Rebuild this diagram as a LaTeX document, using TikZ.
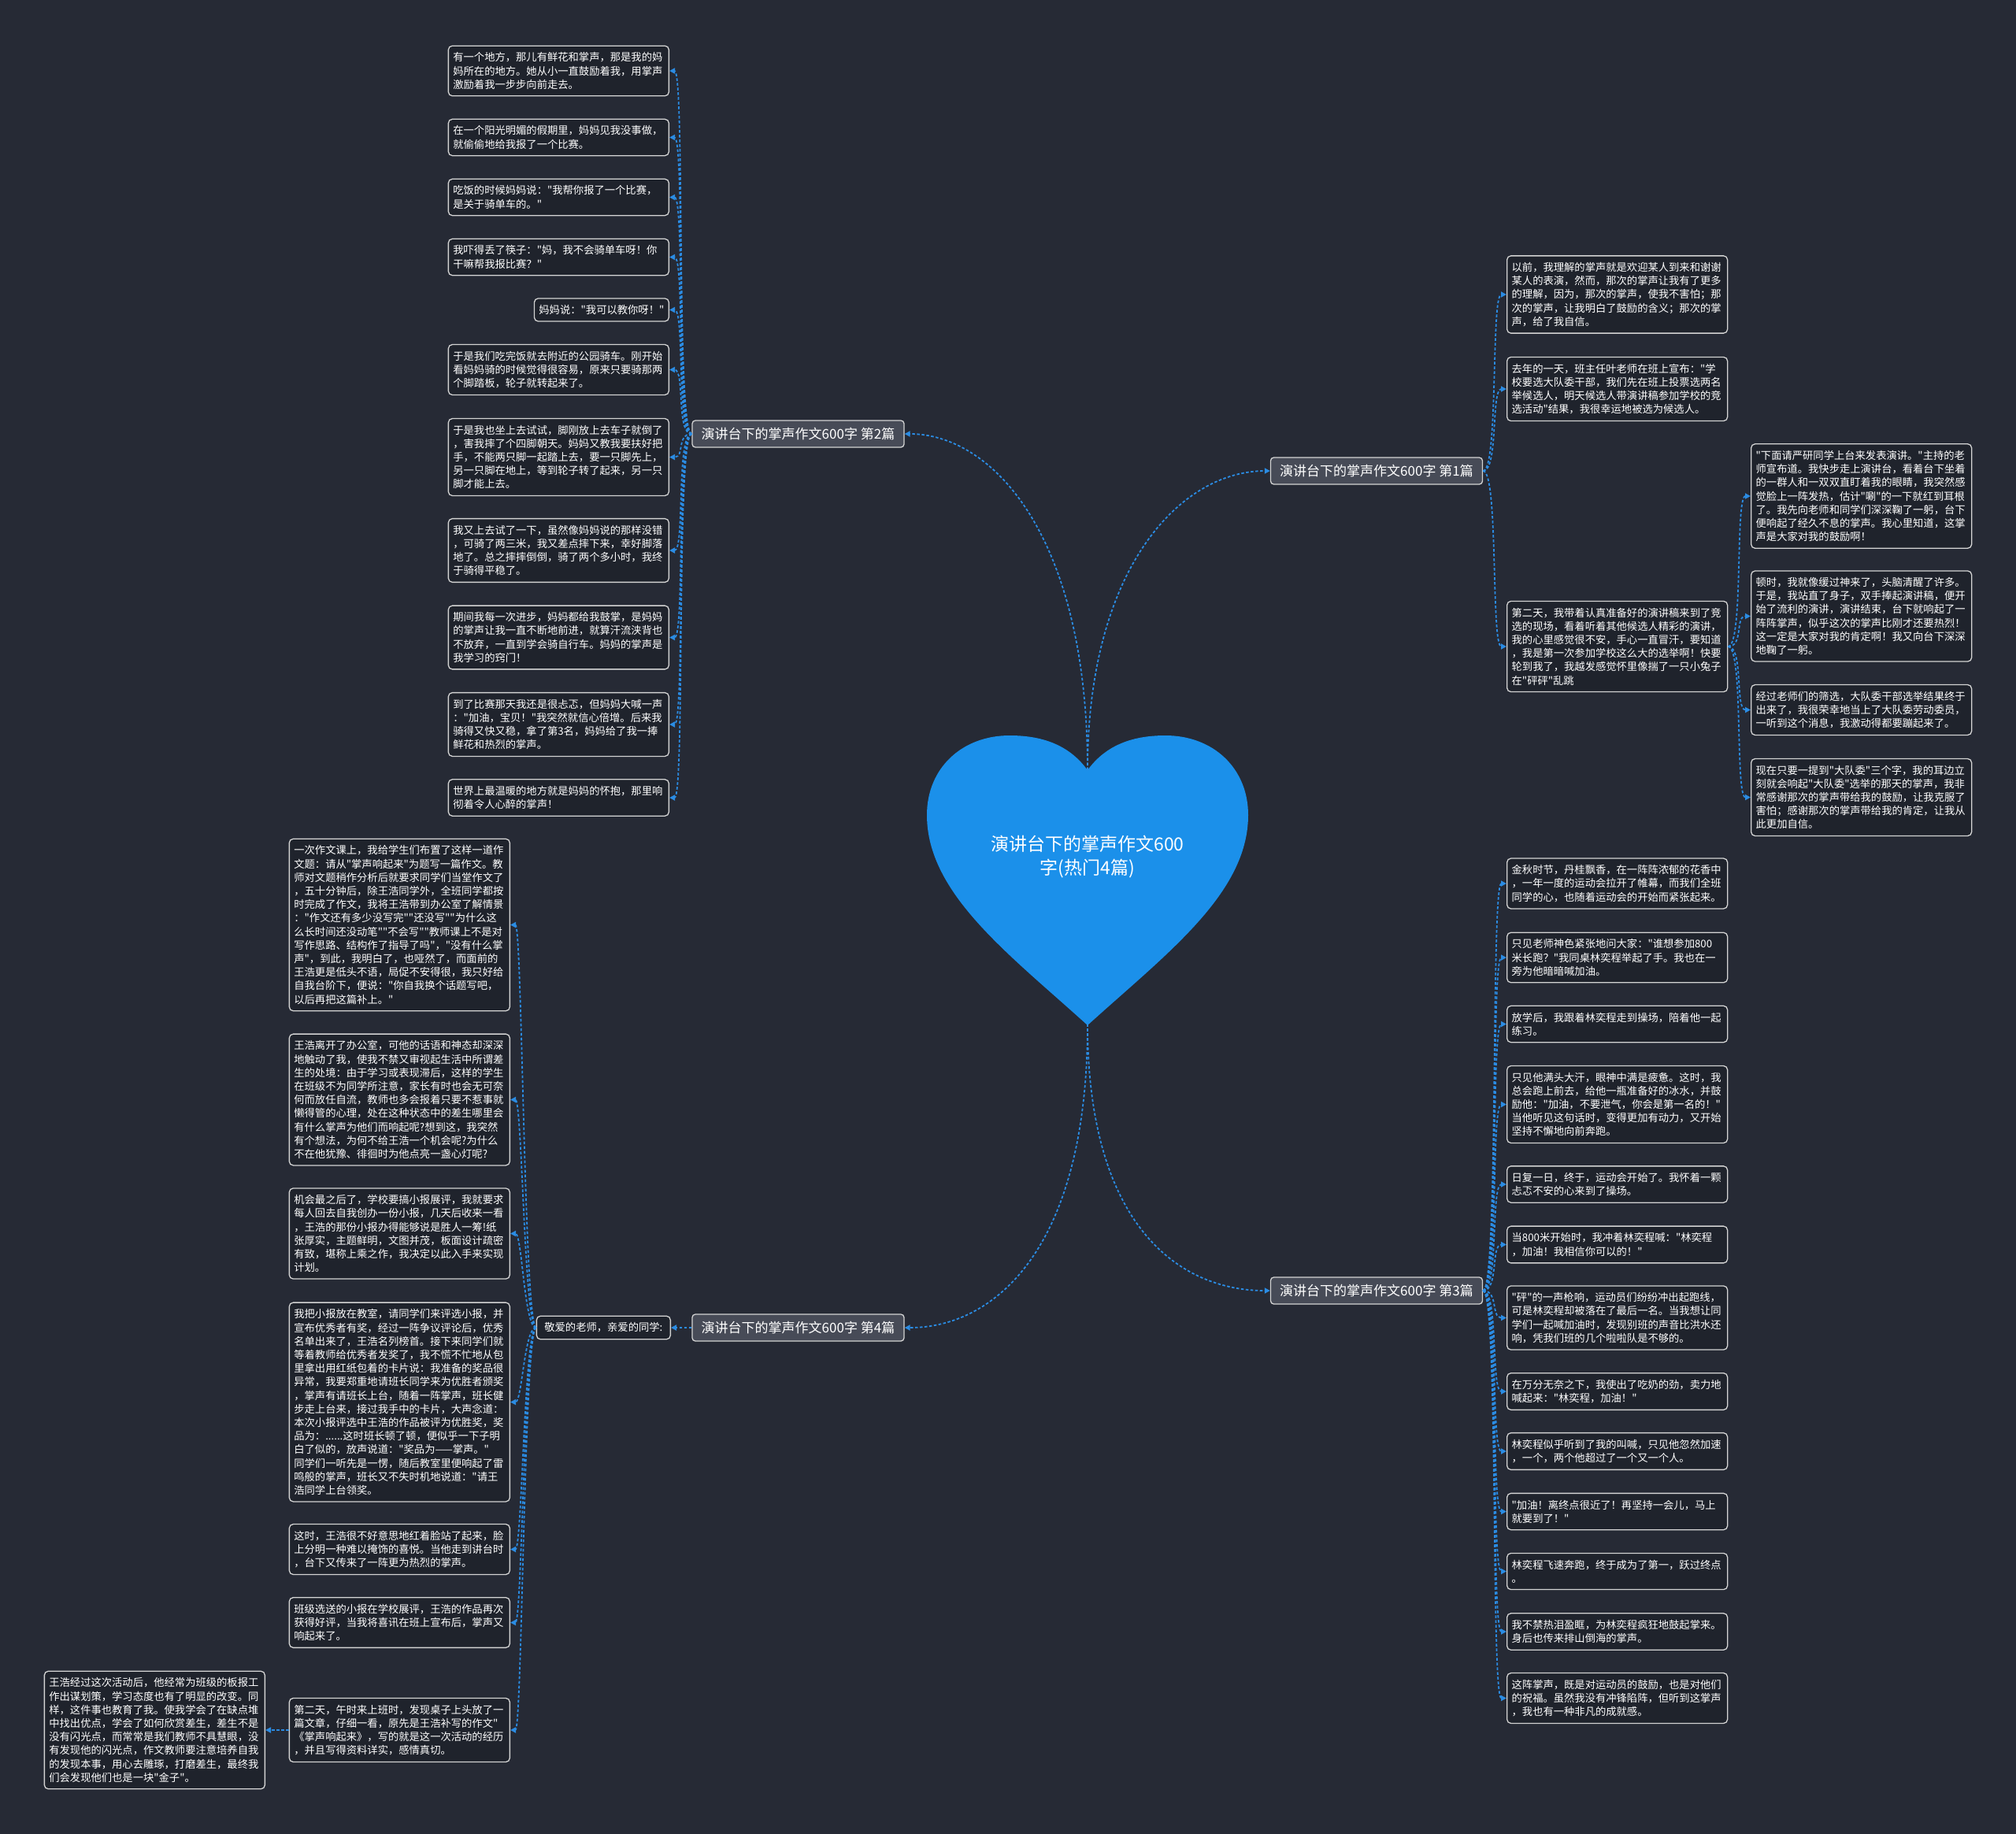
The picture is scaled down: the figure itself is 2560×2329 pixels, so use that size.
\documentclass[tikz,border=0pt]{standalone}
\usepackage{fontspec}
\newfontfamily\cjk{Noto Sans CJK SC}
\usetikzlibrary{arrows.meta}
\definecolor{bg}{HTML}{262A35}
\definecolor{boxfill}{HTML}{1F232C}
\definecolor{boxline}{HTML}{D4D4D4}
\definecolor{brfill}{HTML}{474B57}
\definecolor{connc}{HTML}{2B8CE3}
\definecolor{heartc}{HTML}{1B90EA}
\begin{document}
\begin{tikzpicture}[x=1pt,y=-1pt,
  leafbox/.style={draw=boxline, fill=boxfill, line width=1.3pt, rounded corners=5pt, text=white,
    font=\cjk\fontsize{13.3}{17.2}\selectfont, align=left, inner xsep=6pt, inner ysep=8.4pt},
  lw/.style={leafbox, text width=268pt},
  brnode/.style={draw=boxline, fill=brfill, line width=1.3pt, rounded corners=4pt, text=white,
    font=\cjk\fontsize{17}{20}\selectfont, minimum width=269pt, minimum height=34pt, inner sep=4pt},
  conn/.style={draw=connc, line width=1.8pt, dash pattern=on 3.5pt off 2.5pt,
    -{Triangle[length=7pt,width=7pt]}},
  heartlbl/.style={text=white, font=\cjk\fontsize{23}{31}\selectfont, align=center}
]
\fill[bg] (0,0) rectangle (2560,2329);
\useasboundingbox (0,0) rectangle (2560,2329);

% heart
\fill[heartc] (1381,978)
 .. controls (1405,945) and (1440,934) .. (1480,934)
 .. controls (1540,934) and (1585,975) .. (1585,1035)
 .. controls (1585,1135) and (1480,1212) .. (1381,1302)
 .. controls (1282,1212) and (1177,1135) .. (1177,1035)
 .. controls (1177,975) and (1222,934) .. (1282,934)
 .. controls (1322,934) and (1357,945) .. (1381,978) -- cycle;
\coordinate (htop) at (1381,978);
\coordinate (hbot) at (1381,1300);
\node[heartlbl] (ht) at (1381,1088) {演讲台下的掌声作文600\\字(热门4篇)};

% branches
\node[brnode] (B2) at (1013.5,551) {演讲台下的掌声作文600字 第2篇};
\node[brnode] (B1) at (1748,598) {演讲台下的掌声作文600字 第1篇};
\node[brnode] (B3) at (1748,1639) {演讲台下的掌声作文600字 第3篇};
\node[brnode] (B4) at (1013.5,1686) {演讲台下的掌声作文600字 第4篇};

% branch 2 leaves
\node[lw,anchor=east] (a1) at (850,90) {有一个地方，那儿有鲜花和掌声，那是我的妈\\妈所在的地方。她从小一直鼓励着我，用掌声\\激励着我一步步向前走去。};
\node[lw,anchor=east] (a2) at (850,174.5) {在一个阳光明媚的假期里，妈妈见我没事做，\\就偷偷地给我报了一个比赛。};
\node[lw,anchor=east] (a3) at (850,250.5) {吃饭的时候妈妈说："我帮你报了一个比赛，\\是关于骑单车的。"};
\node[lw,anchor=east] (a4) at (850,326.5) {我吓得丢了筷子："妈，我不会骑单车呀！你\\干嘛帮我报比赛？"};
\node[leafbox,anchor=east] (a5) at (850,393.5) {妈妈说："我可以教你呀！"};
\node[lw,anchor=east] (a6) at (850,469.5) {于是我们吃完饭就去附近的公园骑车。刚开始\\看妈妈骑的时候觉得很容易，原来只要骑那两\\个脚踏板，轮子就转起来了。};
\node[lw,anchor=east] (a7) at (850,580.5) {于是我也坐上去试试，脚刚放上去车子就倒了\\，害我摔了个四脚朝天。妈妈又教我要扶好把\\手，不能两只脚一起踏上去，要一只脚先上，\\另一只脚在地上，等到轮子转了起来，另一只\\脚才能上去。};
\node[lw,anchor=east] (a8) at (850,699) {我又上去试了一下，虽然像妈妈说的那样没错\\，可骑了两三米，我又差点摔下来，幸好脚落\\地了。总之摔摔倒倒，骑了两个多小时，我终\\于骑得平稳了。};
\node[lw,anchor=east] (a9) at (850,809.5) {期间我每一次进步，妈妈都给我鼓掌，是妈妈\\的掌声让我一直不断地前进，就算汗流浃背也\\不放弃，一直到学会骑自行车。妈妈的掌声是\\我学习的窍门！};
\node[lw,anchor=east] (a10) at (850,920) {到了比赛那天我还是很忐忑，但妈妈大喊一声\\："加油，宝贝！"我突然就信心倍增。后来我\\骑得又快又稳，拿了第3名，妈妈给了我一捧\\鲜花和热烈的掌声。};
\node[lw,anchor=east] (a11) at (850,1013) {世界上最温暖的地方就是妈妈的怀抱，那里响\\彻着令人心醉的掌声！};

% branch 1 leaves
\node[lw,anchor=west] (b1) at (1913,374) {以前，我理解的掌声就是欢迎某人到来和谢谢\\某人的表演，然而，那次的掌声让我有了更多\\的理解，因为，那次的掌声，使我不害怕；那\\次的掌声，让我明白了鼓励的含义；那次的掌\\声，给了我自信。};
\node[lw,anchor=west] (b2) at (1913,494) {去年的一天，班主任叶老师在班上宣布："学\\校要选大队委干部，我们先在班上投票选两名\\举候选人，明天候选人带演讲稿参加学校的竞\\选活动"结果，我很幸运地被选为候选人。};
\node[lw,anchor=west] (b3) at (1913,821) {第二天，我带着认真准备好的演讲稿来到了竞\\选的现场，看着听着其他候选人精彩的演讲，\\我的心里感觉很不安，手心一直冒汗，要知道\\，我是第一次参加学校这么大的选举啊！快要\\轮到我了，我越发感觉怀里像揣了一只小兔子\\在"砰砰"乱跳};
\node[lw,anchor=west] (s1) at (2223,630) {"下面请严研同学上台来发表演讲。"主持的老\\师宣布道。我快步走上演讲台，看着台下坐着\\的一群人和一双双直盯着我的眼睛，我突然感\\觉脸上一阵发热，估计"唰"的一下就红到耳根\\了。我先向老师和同学们深深鞠了一躬，台下\\便响起了经久不息的掌声。我心里知道，这掌\\声是大家对我的鼓励啊！};
\node[lw,anchor=west] (s2) at (2223,782.5) {顿时，我就像缓过神来了，头脑清醒了许多。\\于是，我站直了身子，双手捧起演讲稿，便开\\始了流利的演讲，演讲结束，台下就响起了一\\阵阵掌声，似乎这次的掌声比刚才还要热烈！\\这一定是大家对我的肯定啊！我又向台下深深\\地鞠了一躬。};
\node[lw,anchor=west] (s3) at (2223,901.5) {经过老师们的筛选，大队委干部选举结果终于\\出来了，我很荣幸地当上了大队委劳动委员，\\一听到这个消息，我激动得都要蹦起来了。};
\node[lw,anchor=west] (s4) at (2223,1012.5) {现在只要一提到"大队委"三个字，我的耳边立\\刻就会响起"大队委"选举的那天的掌声，我非\\常感谢那次的掌声带给我的鼓励，让我克服了\\害怕；感谢那次的掌声带给我的肯定，让我从\\此更加自信。};

% branch 3 leaves
\node[lw,anchor=west] (c1) at (1913,1122) {金秋时节，丹桂飘香，在一阵阵浓郁的花香中\\，一年一度的运动会拉开了帷幕，而我们全班\\同学的心，也随着运动会的开始而紧张起来。};
\node[lw,anchor=west] (c2) at (1913,1216) {只见老师神色紧张地问大家："谁想参加800\\米长跑？"我同桌林奕程举起了手。我也在一\\旁为他暗暗喊加油。};
\node[lw,anchor=west] (c3) at (1913,1300.5) {放学后，我跟着林奕程走到操场，陪着他一起\\练习。};
\node[lw,anchor=west] (c4) at (1913,1402.5) {只见他满头大汗，眼神中满是疲惫。这时，我\\总会跑上前去，给他一瓶准备好的冰水，并鼓\\励他："加油，不要泄气，你会是第一名的！"\\当他听见这句话时，变得更加有动力，又开始\\坚持不懈地向前奔跑。};
\node[lw,anchor=west] (c5) at (1913,1504) {日复一日，终于，运动会开始了。我怀着一颗\\忐忑不安的心来到了操场。};
\node[lw,anchor=west] (c6) at (1913,1580.5) {当800米开始时，我冲着林奕程喊："林奕程\\，加油！我相信你可以的！"};
\node[lw,anchor=west] (c7) at (1913,1673.5) {"砰"的一声枪响，运动员们纷纷冲出起跑线，\\可是林奕程却被落在了最后一名。当我想让同\\学们一起喊加油时，发现别班的声音比洪水还\\响，凭我们班的几个啦啦队是不够的。};
\node[lw,anchor=west] (c8) at (1913,1767) {在万分无奈之下，我使出了吃奶的劲，卖力地\\喊起来："林奕程，加油！"};
\node[lw,anchor=west] (c9) at (1913,1843) {林奕程似乎听到了我的叫喊，只见他忽然加速\\，一个，两个他超过了一个又一个人。};
\node[lw,anchor=west] (c10) at (1913,1919.5) {"加油！离终点很近了！再坚持一会儿，马上\\就要到了！"};
\node[lw,anchor=west] (c11) at (1913,1995.5) {林奕程飞速奔跑，终于成为了第一，跃过终点\\。};
\node[lw,anchor=west] (c12) at (1913,2072) {我不禁热泪盈眶，为林奕程疯狂地鼓起掌来。\\身后也传来排山倒海的掌声。};
\node[lw,anchor=west] (c13) at (1913,2156.5) {这阵掌声，既是对运动员的鼓励，也是对他们\\的祝福。虽然我没有冲锋陷阵，但听到这掌声\\，我也有一种非凡的成就感。};

% branch 4
\node[leafbox,anchor=east,inner xsep=10pt] (lbl) at (852,1686) {敬爱的老师，亲爱的同学:};
\node[lw,anchor=east] (d1) at (648,1174.5) {一次作文课上，我给学生们布置了这样一道作\\文题：请从"掌声响起来"为题写一篇作文。教\\师对文题稍作分析后就要求同学们当堂作文了\\，五十分钟后，除王浩同学外，全班同学都按\\时完成了作文，我将王浩带到办公室了解情景\\："作文还有多少没写完""还没写""为什么这\\么长时间还没动笔""不会写""教师课上不是对\\写作思路、结构作了指导了吗"，"没有什么掌\\声"，到此，我明白了，也哑然了，而面前的\\王浩更是低头不语，局促不安得很，我只好给\\自我台阶下，便说："你自我换个话题写吧，\\以后再把这篇补上。"};
\node[lw,anchor=east] (d2) at (648,1396.5) {王浩离开了办公室，可他的话语和神态却深深\\地触动了我，使我不禁又审视起生活中所谓差\\生的处境：由于学习或表现滞后，这样的学生\\在班级不为同学所注意，家长有时也会无可奈\\何而放任自流，教师也多会报着只要不惹事就\\懒得管的心理，处在这种状态中的差生哪里会\\有什么掌声为他们而响起呢?想到这，我突然\\有个想法，为何不给王浩一个机会呢?为什么\\不在他犹豫、徘徊时为他点亮一盏心灯呢?};
\node[lw,anchor=east] (d3) at (648,1566.5) {机会最之后了，学校要搞小报展评，我就要求\\每人回去自我创办一份小报，几天后收来一看\\，王浩的那份小报办得能够说是胜人一筹!纸\\张厚实，主题鲜明，文图并茂，板面设计疏密\\有致，堪称上乘之作，我决定以此入手来实现\\计划。};
\node[lw,anchor=east] (d4) at (648,1780.5) {我把小报放在教室，请同学们来评选小报，并\\宣布优秀者有奖，经过一阵争议评论后，优秀\\名单出来了，王浩名列榜首。接下来同学们就\\等着教师给优秀者发奖了，我不慌不忙地从包\\里拿出用红纸包着的卡片说：我准备的奖品很\\异常，我要郑重地请班长同学来为优胜者颁奖\\，掌声有请班长上台，随着一阵掌声，班长健\\步走上台来，接过我手中的卡片，大声念道：\\本次小报评选中王浩的作品被评为优胜奖，奖\\品为：......这时班长顿了顿，便似乎一下子明\\白了似的，放声说道："奖品为——掌声。"\\同学们一听先是一愣，随后教室里便响起了雷\\鸣般的掌声，班长又不失时机地说道："请王\\浩同学上台领奖。};
\node[lw,anchor=east] (d5) at (648,1967.5) {这时，王浩很不好意思地红着脸站了起来，脸\\上分明一种难以掩饰的喜悦。当他走到讲台时\\，台下又传来了一阵更为热烈的掌声。};
\node[lw,anchor=east] (d6) at (648,2060.5) {班级选送的小报在学校展评，王浩的作品再次\\获得好评，当我将喜讯在班上宣布后，掌声又\\响起来了。};
\node[lw,anchor=east] (d7) at (648,2197) {第二天，午时来上班时，发现桌子上头放了一\\篇文章，仔细一看，原先是王浩补写的作文"\\《掌声响起来》，写的就是这一次活动的经历\\，并且写得资料详实，感情真切。};
\node[lw,anchor=east] (e1) at (337,2197) {王浩经过这次活动后，他经常为班级的板报工\\作出谋划策，学习态度也有了明显的改变。同\\样，这件事也教育了我。使我学会了在缺点堆\\中找出优点，学会了如何欣赏差生，差生不是\\没有闪光点，而常常是我们教师不具慧眼，没\\有发现他的闪光点，作文教师要注意培养自我\\的发现本事，用心去雕琢，打磨差生，最终我\\们会发现他们也是一块"金子"。};

% connectors: heart to branches
\draw[conn] (htop) .. controls (1381,680) and (1260,551) .. (B2.east);
\draw[conn] (htop) .. controls (1381,720) and (1500,598) .. (B1.west);
\draw[conn] (hbot) .. controls (1381,1560) and (1500,1639) .. (B3.west);
\draw[conn] (hbot) .. controls (1381,1590) and (1260,1686) .. (B4.east);

% branch 2
\foreach \n in {a1,a2,a3,a4,a5,a6,a7,a8,a9,a10,a11}
  \draw[conn] (B2.west) .. controls +(-20,0) and +(20,0) .. (\n.east);
% branch 1
\foreach \n in {b1,b2,b3}
  \draw[conn] (B1.east) .. controls +(20,0) and +(-20,0) .. (\n.west);
\foreach \n in {s1,s2,s3,s4}
  \draw[conn] (b3.east) .. controls +(20,0) and +(-20,0) .. (\n.west);
% branch 3
\foreach \n in {c1,c2,c3,c4,c5,c6,c7,c8,c9,c10,c11,c12,c13}
  \draw[conn] (B3.east) .. controls +(20,0) and +(-20,0) .. (\n.west);
% branch 4
\draw[conn] (B4.west) -- (lbl.east);
\foreach \n in {d1,d2,d3,d4,d5,d6,d7}
  \draw[conn] (lbl.west) .. controls +(-15,0) and +(15,0) .. (\n.east);
\draw[conn] (d7.west) -- (e1.east);
\end{tikzpicture}
\end{document}
